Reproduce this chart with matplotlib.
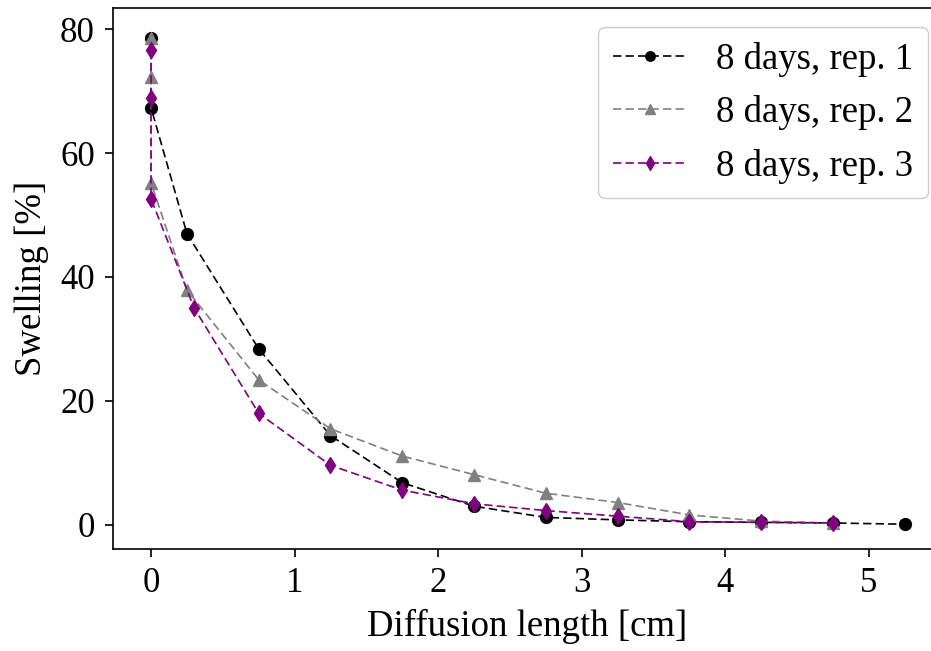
import matplotlib
matplotlib.use("Agg")
import matplotlib.pyplot as plt

plt.rcParams['font.family'] = ['Liberation Serif', 'DejaVu Serif']
plt.rcParams['mathtext.fontset'] = 'stix'

labels = ["8 days, rep. 1", "8 days, rep. 2", "8 days, rep. 3"]

x_rep1 = [0, 0, 0.25, 0.75, 1.25, 1.75, 2.25, 2.75, 3.25, 3.75, 4.25, 4.75, 5.25]
y_rep1 = [78.5, 67.3, 47.0, 28.4, 14.4, 6.8, 3.0, 1.2, 0.8, 0.5, 0.4, 0.3, 0.1]

x_rep2 = [0, 0, 0, 0.25, 0.75, 1.25, 1.75, 2.25, 2.75, 3.25, 3.75, 4.25, 4.75]
y_rep2 = [78.5, 72.2, 55.2, 37.9, 23.4, 15.5, 11.1, 8.1, 5.1, 3.6, 1.6, 0.6, 0.3]

x_rep3 = [0, 0, 0, 0.3, 0.75, 1.25, 1.75, 2.25, 2.75, 3.25, 3.75, 4.25, 4.75]
y_rep3 = [76.6, 68.9, 52.6, 35.0, 18.0, 9.6, 5.6, 3.4, 2.3, 1.4, 0.5, 0.4, 0.3]

W, H = 931, 651
fig = plt.figure(figsize=(W / 100, H / 100), dpi=100)
ax = fig.add_axes([113 / W, (H - 549) / H, (942 - 113) / W, (549 - 8) / H])

lw = 1.2
ms = 8.5
dash = (5, 2.5)
ax.plot(x_rep1, y_rep1, linestyle='--', dashes=dash, color='black', marker='o',
        markersize=ms, linewidth=lw, label=labels[0])
ax.plot(x_rep2, y_rep2, linestyle='--', dashes=dash, color='gray', marker='^',
        markersize=ms, linewidth=lw, label=labels[1])
ax.plot(x_rep3, y_rep3, linestyle='--', dashes=dash, color='purple', marker='d',
        markersize=ms, linewidth=lw, label=labels[2])

ax.set_xlim(-0.265, 5.51)
ax.set_ylim(-3.9, 83.4)
ax.set_xticks([0, 1, 2, 3, 4, 5])
ax.set_yticks([0, 20, 40, 60, 80])
ax.tick_params(labelsize=25, length=6, width=1.2, pad=7)
for s in ax.spines.values():
    s.set_linewidth(1.2)
ax.set_xlabel("Diffusion length [cm]", fontsize=26.5, labelpad=6)
ax.set_ylabel("Swelling [%]", fontsize=26.5, labelpad=8)

ax.legend(loc='upper right', bbox_to_anchor=(928 / W, (H - 27) / H),
          bbox_transform=fig.transFigure, borderaxespad=0, fontsize=26.5,
          handlelength=2.0, markerscale=0.8, framealpha=1)

fig.savefig("out.png", dpi=100)
